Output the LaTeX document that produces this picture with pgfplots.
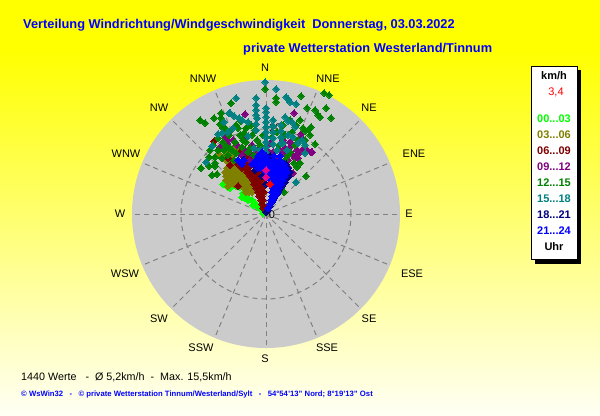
\documentclass[border=0pt]{standalone}
\usepackage{pgfplots}
\pgfplotsset{compat=1.18}
\usepackage{fontspec}
\setmainfont{Liberation Sans}
\definecolor{cLime}{HTML}{00FF00}
\definecolor{cOlive}{HTML}{808000}
\definecolor{cMaroon}{HTML}{800000}
\definecolor{cPurple}{HTML}{800080}
\definecolor{cGreen}{HTML}{008000}
\definecolor{cTeal}{HTML}{008080}
\definecolor{cNavy}{HTML}{000080}
\definecolor{cBlue}{HTML}{0000FF}
\definecolor{cDisc}{HTML}{CBCBCB}
\definecolor{cGrid}{HTML}{808080}
\definecolor{cBot}{HTML}{FFFFF4}
\pgfdeclareverticalshading{bgshade}{100bp}{color(0bp)=(cBot); color(25bp)=(cBot); color(69bp)=(yellow); color(75bp)=(yellow); color(100bp)=(yellow)}
\pgfplotsset{pts/.style={only marks, mark=square*, mark size=2.3bp, mark options={rotate=45, draw=#1, fill=#1, line width=0pt}, forget plot}}
\newcommand{\fs}[1]{\fontsize{#1bp}{#1bp}\selectfont}
\begin{document}
\begin{tikzpicture}
\begin{axis}[width=600bp,height=415bp,scale only axis,axis lines=none,
  xmin=0,xmax=600,ymin=0,ymax=415,y dir=reverse,clip=false,enlargelimits=false]
\fill[shading=bgshade] (axis cs:0,0) rectangle (axis cs:600,415);
\fill[cDisc] (axis cs:266,214) circle [radius=134bp];
\draw[cGrid,line width=1bp,dash pattern=on 5bp off 4bp] (axis cs:266,214) circle [radius=85bp];
\foreach \ex/\ey in {266/82,316.5/92,359.3/120.7,388/163.5,398/214,388/264.5,359.3/307.3,316.5/336,266/346,215.5/336,172.7/307.3,144/264.5,134/214,144/163.5,172.7/120.7,215.5/92}{
  \edef\tmp{\noexpand\draw[cGrid,line width=1bp,dash pattern=on 5bp off 4bp] (axis cs:266,214) -- (axis cs:\ex,\ey);}\tmp
}
\node[font=\fs{11}] at (axis cs:272,215) {0};
\node[font=\fs{11}] at (axis cs:275,128) {10};
% 00..03
\addplot[pts=cLime] coordinates {(223,184)(228,187)(233,183)(240,187)(243,193)(245,198)(252,200)(255,203)(258,207)(262,210)(263,213)(230,188)(242,197)(247,197)(253,205)(257,206)(260,208)(236,186)(248,200)};
% 03..06
\addplot[pts=cOlive] coordinates {(246,192)(249,192)(252,192)(244,188)(247,188)(250,188)(253,188)(234,184)(238,184)(242,184)(246,184)(250,184)(254,184)(226,180)(230,180)(234,180)(238,180)(242,180)(246,180)(250,180)(226,176)(230,176)(234,176)(238,176)(242,176)(246,176)(225,172)(229,172)(233,172)(237,172)(241,172)(245,172)(227,168)(231,168)(235,168)(239,168)(243,168)(230,164)(234,164)(238,164)(226,160)(232,160)(238,160)(224,156)(232,156)(219,154)(228,152)(236,152)(233,148)(238,150)(228,186)};
% 06..09
\addplot[pts=cMaroon] coordinates {(263,208)(262,204)(264,206)(261,200)(263,200)(259,196)(262,196)(258,192)(261,192)(264,192)(256,188)(259,188)(262,188)(254,184)(257,184)(260,184)(253,180)(256,180)(259,180)(262,180)(250,176)(253,176)(256,176)(259,176)(262,176)(247,172)(250,172)(253,172)(256,172)(259,172)(242,168)(245,168)(248,168)(238,164)(242,164)(246,164)(250,164)(254,164)(248,160)(234,160)(228,158)(244,156)(252,156)(240,152)(238,186)(230,165)(214,141)(225,141)};
% 09..12
\addplot[pts=cPurple] coordinates {(294,113)(245,114)(301,134)(302,138)(311,152)(306,149)(298,154)(295,158)(297,150)(225,138)(220,147)(245,138)(228,140)(283,140)(285,148)(290,147)(293,155)(250,160)(242,155)(237,145)(257,150)(270,143)(273,152)(278,160)(288,160)(285,153)(280,150)(267,150)(260,160)(233,140)(227,143)(252,145)(302,150)(290,142)(298,158)(285,168)(288,167)(245,150)(250,153)(263,157)(270,158)(288,168)(293,173)(268,177)(312,152)(305,150)};
% 12..15
\addplot[pts=cGreen] coordinates {(265,89)(301,96)(324,93)(329,95)(276,98)(276,102)(231,103)(307,108)(315,110)(326,108)(331,118)(318,115)(320,117)(200,120)(205,123)(214,118)(221,113)(221,118)(220,124)(223,128)(311,127)(309,129)(305,131)(315,144)(209,157)(201,168)(209,166)(215,163)(215,166)(217,174)(306,176)(297,167)(284,192)(225,128)(230,131)(236,125)(241,121)(246,128)(251,125)(218,138)(223,142)(229,135)(235,142)(240,135)(246,142)(252,135)(257,140)(213,145)(218,150)(224,150)(230,148)(236,153)(242,147)(248,152)(254,155)(228,155)(222,158)(215,157)(234,160)(260,145)(263,135)(283,125)(290,120)(296,125)(303,128)(285,135)(292,132)(298,140)(305,140)(279,145)(290,152)(300,163)(294,163)(285,160)(272,137)(277,132)(212,175)(210,150)(226,146)(232,150)(243,140)(250,148)(255,130)(238,128)(244,133)(300,120)(310,135)(295,145)(288,155)};
% 15..18
\addplot[pts=cTeal] coordinates {(265,82)(276,89)(236,98)(288,99)(290,102)(296,104)(286,97)(256,98)(256,105)(256,110)(256,115)(257,118)(256,124)(256,130)(266,108)(266,112)(266,117)(266,122)(266,127)(266,132)(266,137)(266,142)(266,147)(266,152)(273,120)(273,126)(273,132)(273,138)(273,144)(281,125)(281,131)(281,137)(281,143)(248,122)(248,136)(242,120)(229,113)(234,116)(239,118)(230,113)(288,121)(285,117)(292,122)(295,127)(302,140)(305,145)(305,153)(218,134)(212,146)(206,162)(228,132)(233,128)(283,143)(288,135)(293,137)(298,143)(296,182)(287,150)(277,150)(260,150)(254,148)(224,122)(222,133)};
% 18..21
\addplot[pts=cNavy] coordinates {(266,212)(268,210)(270,206)(272,202)(274,198)(277,194)(279,190)(282,186)(285,182)(287,178)(289,176)(290,172)(288,168)(286,164)(264,160)(270,156)(255,170)(262,176)(266,184)(243,160)};
% 21..24
\addplot[pts=cBlue] coordinates {(268,208)(270,204)(271,200)(273,200)(272,196)(275,196)(272,192)(275,192)(278,192)(273,188)(276,188)(279,188)(272,184)(275,184)(278,184)(281,184)(271,180)(274,180)(277,180)(280,180)(283,180)(270,176)(273,176)(276,176)(279,176)(282,176)(285,176)(266,172)(269,172)(272,172)(275,172)(278,172)(281,172)(284,172)(287,172)(258,168)(262,168)(266,168)(270,168)(274,168)(278,168)(282,168)(286,168)(242,164)(252,164)(256,164)(260,164)(264,164)(268,164)(272,164)(276,164)(280,164)(284,164)(238,160)(244,160)(256,160)(262,160)(268,160)(274,160)(280,160)(258,156)(266,156)(274,156)(280,156)(262,152)};
\addplot[pts=magenta] coordinates {(266,170)(266,177)};
\addplot[pts=red] coordinates {(270,184)};
% direction labels
\foreach \lx/\ly/\lt in {265/68/N,328/79/NNE,369/108/NE,414/154/ENE,409/214/E,412/274/ESE,369/319/SE,327/348/SSE,265/359/S,201/348/SSW,159/319/SW,125/274/WSW,120/214/W,126/154/WNW,159/108/NW,203/79/NNW}{
  \edef\tmp{\noexpand\node[font=\noexpand\fs{11}] at (axis cs:\lx,\ly) {\lt};}\tmp
}
% titles
\node[anchor=west,inner sep=0pt,text=cBlue,font=\bfseries\fs{12.8}] at (axis cs:23,25) {Verteilung Windrichtung/Windgeschwindigkeit\ \ Donnerstag, 03.03.2022};
\node[anchor=west,inner sep=0pt,text=cBlue,font=\bfseries\fs{12.8}] at (axis cs:243,49) {private Wetterstation Westerland/Tinnum};
\node[anchor=west,inner sep=0pt,font=\fs{10.75}] at (axis cs:21,377) {1440 Werte\ \ \ -\ \ \O{} 5,2km/h\ \ -\ \ Max. 15,5km/h};
\node[anchor=west,inner sep=0pt,text=cBlue,font=\bfseries\fs{7.7}] at (axis cs:21,394) {© WsWin32\ \ \ -\ \ \ © private Wetterstation Tinnum/Westerland/Sylt\ \ \ -\ \ \ 54°54'13'' Nord; 8°19'13'' Ost};
% legend
\fill[black] (axis cs:535,70) rectangle (axis cs:581,264);
\fill[white,draw=black,line width=1bp] (axis cs:531.5,66.5) rectangle (axis cs:577.5,259.5);
\node[font=\bfseries\fs{11}] at (axis cs:554,76) {km/h};
\node[font=\fs{11},text=red] at (axis cs:556,92) {3,4};
\node[font=\bfseries\fs{11},text=cLime] at (axis cs:554,119) {00...03};
\node[font=\bfseries\fs{11},text=cOlive] at (axis cs:554,135) {03...06};
\node[font=\bfseries\fs{11},text=cMaroon] at (axis cs:554,151) {06...09};
\node[font=\bfseries\fs{11},text=cPurple] at (axis cs:554,167) {09...12};
\node[font=\bfseries\fs{11},text=cGreen] at (axis cs:554,183) {12...15};
\node[font=\bfseries\fs{11},text=cTeal] at (axis cs:554,199) {15...18};
\node[font=\bfseries\fs{11},text=cNavy] at (axis cs:554,215) {18...21};
\node[font=\bfseries\fs{11},text=cBlue] at (axis cs:554,231) {21...24};
\node[font=\bfseries\fs{11}] at (axis cs:554,247) {Uhr};
\end{axis}
\end{tikzpicture}
\end{document}
